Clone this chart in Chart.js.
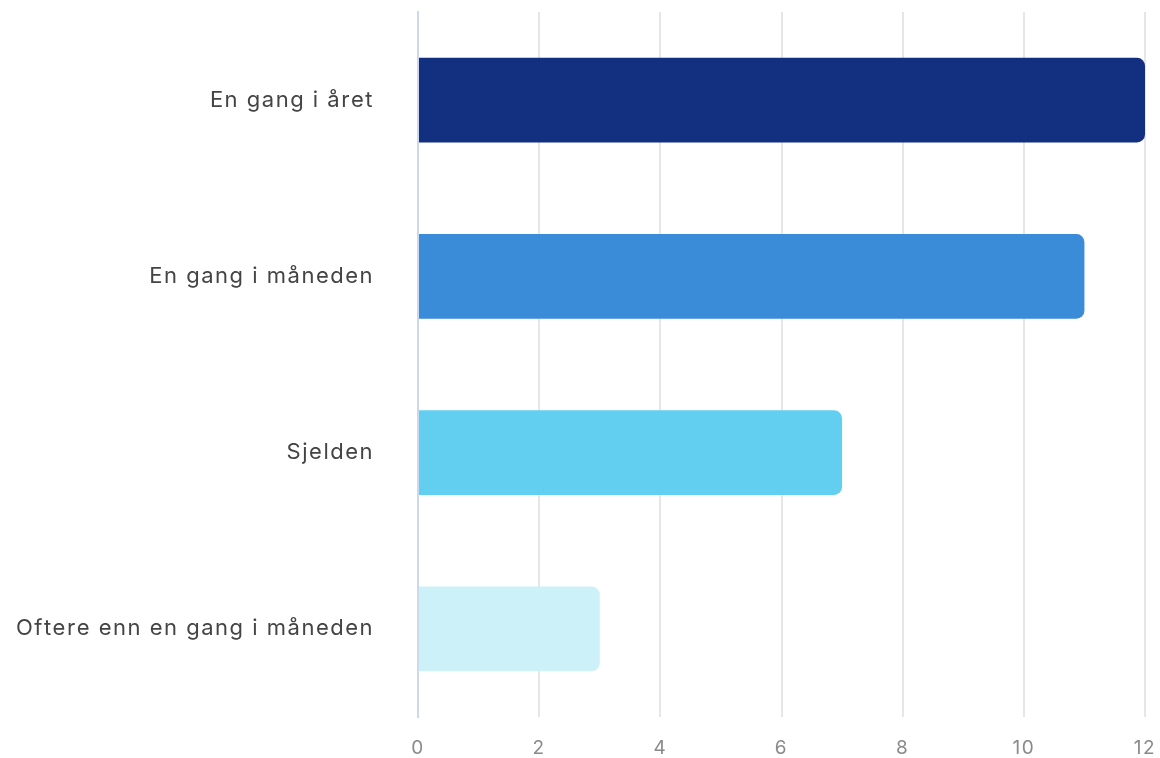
<!DOCTYPE html>
<html>
<head>
<meta charset="utf-8">
<script src="https://cdn.jsdelivr.net/npm/chart.js@4"></script>
<style>
html,body{margin:0;padding:0;background:#fff;}
#wrap{width:1160px;height:758px;}
</style>
</head>
<body>
<div id="wrap"><canvas id="c"></canvas></div>
<script>
const categories = ["En gang i året", "En gang i måneden", "Sjelden", "Oftere enn en gang i måneden"];
const values = [12, 11, 7, 3];
const barColors = ["#122f80", "#3a8bd8", "#62cff0", "#cdf1f9"];
const xTicks = [0, 2, 4, 6, 8, 10, 12];

const spacing = {
  id: 'spacing',
  beforeDraw(chart) { chart.ctx.letterSpacing = '1.5px'; chart.ctx.fontKerning = 'none'; }
};

new Chart(document.getElementById('c'), {
  type: 'bar',
  data: {
    labels: categories,
    datasets: [{
      data: values,
      backgroundColor: barColors,
      borderRadius: 8,
      borderSkipped: 'start',
      categoryPercentage: 0.6,
      barPercentage: 0.8
    }]
  },
  options: {
    indexAxis: 'y',
    responsive: true,
    maintainAspectRatio: false,
    animation: false,
    layout: { padding: 0 },
    plugins: { legend: { display: false }, tooltip: { enabled: false } },
    scales: {
      x: {
        min: 0, max: 12,
        afterBuildTicks(axis) { axis.ticks = xTicks.map(v => ({ value: v })); },
        afterFit(scale) { scale.height = 41; scale.paddingRight = 15; scale.paddingLeft = 0; },
        grid: { color: '#e6e6e6', lineWidth: 2, drawTicks: false },
        border: { display: false },
        ticks: { color: '#8a8a8a', font: { family: 'Inter', size: 19 }, padding: 20 }
      },
      y: {
        afterFit(scale) { scale.width = 418; scale.paddingTop = 12; scale.paddingBottom = 0; },
        grid: { display: false, drawTicks: true, tickLength: 42, tickColor: 'rgba(0,0,0,0)' },
        border: { display: true, color: '#cdd8ee', width: 2 },
        ticks: { color: '#444', font: { family: 'Inter', size: 22 }, padding: 2 }
      }
    }
  },
  plugins: [spacing]
});
</script>
</body>
</html>
